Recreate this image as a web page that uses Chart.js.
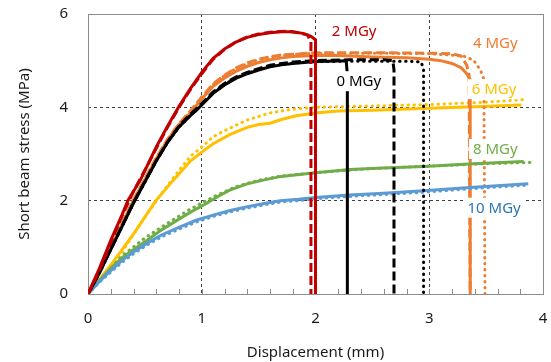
<!DOCTYPE html>
<html>
<head>
<meta charset="utf-8">
<script src="https://cdn.jsdelivr.net/npm/chart.js@4.4.1/dist/chart.umd.min.js"></script>
<style>
  html, body { margin: 0; padding: 0; background: #fff; }
  #wrap { width: 551px; height: 362px; }
</style>
</head>
<body>
<div id="wrap"><canvas id="sbsChart"></canvas></div>
<script>
// Short beam stress vs displacement, [displacement mm, stress MPa]
const mgy2Solid = [[0,0],[0.1,0.55],[0.2,1.15],[0.3,1.7],[0.35,2.0],[0.46,2.44],[0.6,3.15],[0.7,3.6],[0.8,4.02],[0.9,4.4],[1.0,4.75],[1.1,5.05],[1.2,5.25],[1.3,5.4],[1.4,5.5],[1.5,5.56],[1.6,5.6],[1.7,5.62],[1.8,5.62],[1.9,5.58],[1.96,5.52],[2.0,5.45],[2.0,0]];
const mgy2Dashed = [[0,0],[0.1,0.5],[0.2,1.1],[0.3,1.68],[0.4,2.2],[0.5,2.65],[0.6,3.12],[0.7,3.58],[0.8,4.0],[0.9,4.38],[1.0,4.72],[1.1,5.03],[1.2,5.24],[1.3,5.4],[1.4,5.51],[1.5,5.57],[1.6,5.61],[1.75,5.63],[1.85,5.6],[1.93,5.55],[1.96,5.4],[1.96,0]];

const mgy0Solid = [[0,0],[0.1,0.45],[0.2,0.95],[0.3,1.45],[0.4,1.95],[0.5,2.4],[0.6,2.85],[0.7,3.25],[0.8,3.58],[0.9,3.82],[0.95,3.93],[1.0,4.05],[1.1,4.3],[1.2,4.48],[1.3,4.62],[1.4,4.72],[1.5,4.8],[1.6,4.87],[1.7,4.91],[1.8,4.94],[1.9,4.96],[2.0,4.98],[2.1,4.99],[2.27,5.0],[2.28,4.7],[2.28,0]];
const mgy0Dashed = [[0,0],[0.1,0.46],[0.2,0.96],[0.3,1.46],[0.4,1.96],[0.5,2.41],[0.6,2.86],[0.7,3.26],[0.8,3.6],[0.9,3.85],[1.0,4.08],[1.1,4.33],[1.2,4.51],[1.3,4.65],[1.4,4.75],[1.5,4.83],[1.6,4.9],[1.7,4.94],[1.8,4.97],[2.0,5.0],[2.3,5.02],[2.6,5.02],[2.68,5.0],[2.69,4.8],[2.69,0]];
const mgy0Dotted = [[0,0],[0.1,0.45],[0.2,0.95],[0.3,1.45],[0.4,1.95],[0.5,2.4],[0.6,2.85],[0.7,3.25],[0.8,3.58],[0.9,3.83],[1.0,4.06],[1.1,4.31],[1.2,4.49],[1.3,4.63],[1.4,4.73],[1.5,4.81],[1.6,4.88],[1.7,4.92],[1.8,4.95],[2.0,4.98],[2.4,4.99],[2.8,4.99],[2.93,4.97],[2.95,4.8],[2.95,0]];

const mgy4Solid = [[0,0],[0.1,0.5],[0.2,1.0],[0.3,1.5],[0.4,2.0],[0.5,2.45],[0.6,2.9],[0.7,3.3],[0.8,3.62],[0.9,3.88],[1.0,4.18],[1.1,4.45],[1.2,4.63],[1.3,4.77],[1.4,4.88],[1.5,4.96],[1.6,5.02],[1.7,5.06],[1.8,5.09],[2.0,5.11],[2.2,5.11],[2.5,5.08],[2.8,5.06],[3.0,5.03],[3.1,5.0],[3.2,4.94],[3.28,4.85],[3.33,4.72],[3.36,4.6],[3.36,0]];
const mgy4Dashed = [[0,0],[0.1,0.5],[0.2,1.02],[0.3,1.52],[0.4,2.02],[0.5,2.47],[0.6,2.92],[0.7,3.32],[0.8,3.65],[0.9,3.92],[1.0,4.22],[1.1,4.5],[1.2,4.69],[1.3,4.84],[1.4,4.95],[1.5,5.03],[1.6,5.08],[1.7,5.12],[2.0,5.17],[2.5,5.17],[3.0,5.16],[3.2,5.15],[3.28,5.1],[3.33,4.9],[3.35,4.7],[3.36,0]];
const mgy4Dotted = [[0,0],[0.1,0.5],[0.2,1.01],[0.3,1.51],[0.4,2.01],[0.5,2.46],[0.6,2.91],[0.7,3.31],[0.8,3.64],[0.9,3.91],[1.0,4.21],[1.1,4.49],[1.2,4.68],[1.3,4.83],[1.4,4.94],[1.5,5.02],[1.6,5.08],[1.7,5.12],[2.0,5.16],[2.5,5.16],[3.0,5.15],[3.3,5.1],[3.39,5.01],[3.45,4.8],[3.48,4.6],[3.49,0]];

const mgy6Solid = [[0,0],[0.1,0.3],[0.2,0.62],[0.3,0.95],[0.41,1.32],[0.5,1.65],[0.59,1.98],[0.75,2.44],[0.9,2.85],[1.0,3.04],[1.1,3.22],[1.25,3.42],[1.4,3.57],[1.5,3.63],[1.6,3.66],[1.7,3.74],[1.83,3.82],[2.0,3.88],[2.2,3.92],[2.5,3.94],[3.0,3.98],[3.4,4.01],[3.81,4.05]];
const mgy6Dotted = [[0,0],[0.1,0.32],[0.2,0.6],[0.3,0.9],[0.4,1.28],[0.6,2.0],[0.8,2.65],[0.9,2.95],[1.0,3.15],[1.1,3.37],[1.2,3.5],[1.4,3.73],[1.6,3.88],[1.8,3.96],[2.0,4.0],[2.5,4.03],[3.0,4.06],[3.5,4.11],[3.85,4.17]];

const mgy8Solid = [[0,0],[0.09,0.26],[0.2,0.55],[0.3,0.78],[0.37,0.9],[0.52,1.15],[0.65,1.38],[0.81,1.62],[0.95,1.82],[1.04,1.94],[1.15,2.1],[1.25,2.23],[1.4,2.36],[1.54,2.44],[1.7,2.52],[1.86,2.56],[2.0,2.6],[2.3,2.67],[2.6,2.7],[2.95,2.73],[3.39,2.79],[3.83,2.84]];
const mgy8Dotted = [[0,0],[0.1,0.28],[0.2,0.55],[0.3,0.82],[0.5,1.2],[0.7,1.52],[0.9,1.82],[1.1,2.08],[1.3,2.3],[1.5,2.44],[1.7,2.53],[2.0,2.6],[2.5,2.69],[3.0,2.74],[3.5,2.79],[3.9,2.82]];

const mgy10Solid = [[0,0],[0.1,0.27],[0.2,0.5],[0.3,0.72],[0.4,0.9],[0.52,1.09],[0.65,1.27],[0.81,1.44],[0.95,1.58],[1.1,1.69],[1.25,1.79],[1.4,1.87],[1.55,1.94],[1.69,2.0],[1.85,2.03],[2.0,2.07],[2.3,2.12],[2.6,2.16],[2.95,2.21],[3.39,2.29],[3.87,2.36]];
const mgy10Dotted = [[0,0],[0.1,0.25],[0.2,0.47],[0.3,0.68],[0.4,0.86],[0.52,1.05],[0.65,1.23],[0.81,1.4],[0.95,1.54],[1.1,1.66],[1.25,1.76],[1.4,1.84],[1.55,1.91],[1.69,1.97],[1.85,2.0],[2.0,2.04],[2.3,2.09],[2.6,2.13],[2.95,2.18],[3.39,2.26],[3.85,2.33]];

// dose labels: text, x, y (data units)
const doseLabels = ['2 MGy', '4 MGy', '0 MGy', '6 MGy', '8 MGy', '10 MGy'];
const labelX = [2.34, 3.58, 2.38, 3.57, 3.58, 3.57];
const labelY = [5.64, 5.39, 4.56, 4.39, 3.11, 1.85];
const labelColors = ['#C00000', '#ED7D31', '#000000', '#FFC000', '#70AD47', '#2E75B6'];

const FONT = "'Noto Sans', 'Open Sans', sans-serif";
const DASH = [9, 4];
const DOT = [0.5, 5.5];

function series(pts, color, dash) {
    return {
        data: pts.map(p => ({ x: p[0], y: p[1] })),
        borderColor: color,
        borderWidth: 3,
        borderDash: dash || [],
        borderCapStyle: dash === DOT ? 'round' : 'butt',
        pointRadius: 0,
        showLine: true,
        tension: 0,
        fill: false
    };
}

// first dataset ends up on top
const datasets = [
    series(mgy2Solid, '#C00000'),
    series(mgy2Dashed, '#C00000', DASH),
    series(mgy0Solid, '#000000'),
    series(mgy0Dashed, '#000000', DASH),
    series(mgy0Dotted, '#000000', DOT),
    series(mgy10Solid, '#5B9BD5'),
    series(mgy10Dotted, '#5B9BD5', DOT),
    series(mgy8Solid, '#70AD47'),
    series(mgy8Dotted, '#70AD47', DOT),
    series(mgy4Solid, '#ED7D31'),
    series(mgy4Dashed, '#ED7D31', DASH),
    series(mgy4Dotted, '#ED7D31', DOT),
    series(mgy6Solid, '#FFC000'),
    series(mgy6Dotted, '#FFC000', DOT)
];

function isWhole(v) { return Math.abs(v - Math.round(v)) < 1e-6; }

// plot frame + minor ticks on the x axis
const framePlugin = {
    id: 'frame',
    beforeDatasetsDraw(chart) {
        const { ctx, chartArea: a } = chart;
        const xs = chart.scales.x;
        ctx.save();
        ctx.strokeStyle = '#8c8c8c';
        ctx.lineWidth = 1;
        ctx.setLineDash([]);
        ctx.strokeRect(a.left + 0.5, a.top + 0.5, a.right - a.left, a.bottom - a.top);
        ctx.beginPath();
        xs.ticks.forEach(t => {
            const px = Math.round(xs.getPixelForValue(t.value)) + 0.5;
            ctx.moveTo(px, a.bottom);
            ctx.lineTo(px, a.bottom - 5);
        });
        ctx.stroke();
        ctx.restore();
    }
};

// dose labels with white boxes
const labelPlugin = {
    id: 'doseLabels',
    afterDatasetsDraw(chart) {
        const { ctx } = chart;
        const xs = chart.scales.x, ys = chart.scales.y;
        ctx.save();
        ctx.font = '15px ' + FONT;
        ctx.textAlign = 'center';
        ctx.textBaseline = 'middle';
        doseLabels.forEach((txt, i) => {
            const px = xs.getPixelForValue(labelX[i]);
            const py = ys.getPixelForValue(labelY[i]);
            const w = ctx.measureText(txt).width;
            ctx.fillStyle = '#ffffff';
            ctx.fillRect(px - w / 2 - 4, py - 10, w + 8, 20);
            ctx.fillStyle = labelColors[i];
            ctx.fillText(txt, px, py + 1);
        });
        ctx.restore();
    }
};

new Chart(document.getElementById('sbsChart'), {
    type: 'scatter',
    data: { datasets: datasets },
    options: {
        responsive: true,
        maintainAspectRatio: false,
        animation: false,
        layout: { padding: { top: 14, right: 8, left: 0, bottom: 0 } },
        plugins: {
            legend: { display: false },
            tooltip: { enabled: false }
        },
        scales: {
            x: {
                type: 'linear',
                min: 0,
                max: 4,
                afterFit: function(scale) { scale.height = 68; },
                ticks: {
                    stepSize: 0.2,
                    autoSkip: false,
                    maxRotation: 0,
                    padding: 2,
                    color: '#1a1a1a',
                    font: { family: FONT, size: 15 },
                    callback: function(value) { return isWhole(value) ? String(Math.round(value)) : ''; }
                },
                grid: {
                    drawTicks: true,
                    tickLength: 14,
                    tickColor: 'rgba(0,0,0,0)',
                    lineWidth: 1,
                    color: function(c) {
                        const v = c.tick ? c.tick.value : 0;
                        return (isWhole(v) && v > 0 && v < 4) ? '#404040' : 'rgba(0,0,0,0)';
                    }
                },
                border: { display: false, dash: [3, 3] },
                title: {
                    display: true,
                    text: 'Displacement (mm)',
                    color: '#1a1a1a',
                    font: { family: FONT, size: 15 },
                    padding: { top: 2, bottom: 0 }
                }
            },
            y: {
                type: 'linear',
                min: 0,
                max: 6,
                afterFit: function(scale) { scale.width = 88; },
                ticks: {
                    stepSize: 2,
                    padding: 2,
                    color: '#1a1a1a',
                    font: { family: FONT, size: 15 }
                },
                grid: {
                    drawTicks: true,
                    tickLength: 18,
                    tickColor: 'rgba(0,0,0,0)',
                    lineWidth: 1,
                    color: function(c) {
                        const v = c.tick ? c.tick.value : 0;
                        return (v > 0 && v < 6) ? '#404040' : 'rgba(0,0,0,0)';
                    }
                },
                border: { display: false, dash: [3, 3] },
                title: {
                    display: true,
                    text: 'Short beam stress (MPa)',
                    color: '#1a1a1a',
                    font: { family: FONT, size: 15 },
                    padding: { top: 16, bottom: 0 }
                }
            }
        }
    },
    plugins: [framePlugin, labelPlugin]
});
</script>
</body>
</html>
